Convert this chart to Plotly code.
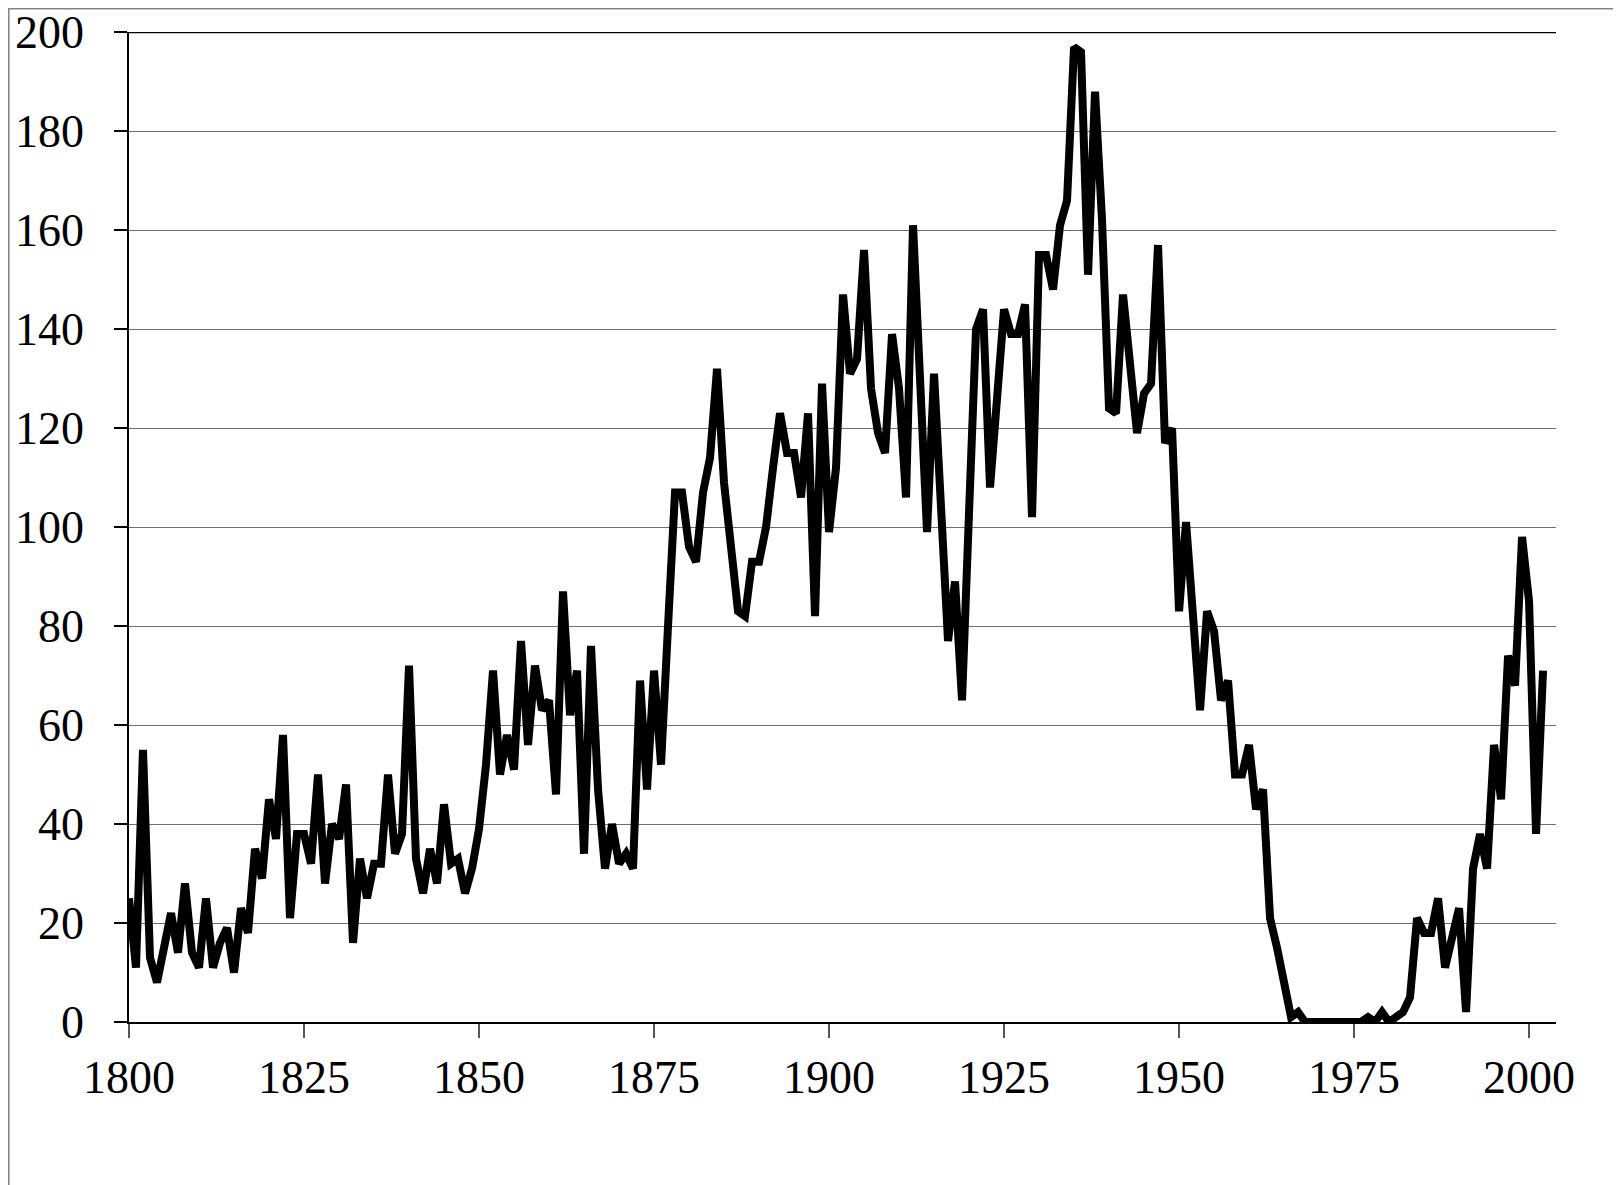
import plotly.graph_objects as go

years = list(range(1800, 2003))

counts = [
    25, 11, 55, 13, 8, 16, 22, 14, 28, 14,          # 1800-1809
    11, 25, 11, 16, 19, 10, 23, 18, 35, 29,         # 1810-1819
    45, 37, 58, 21, 38, 38, 32, 50, 28, 40,         # 1820-1829
    37, 48, 16, 33, 25, 32, 32, 50, 34, 38,         # 1830-1839
    72, 33, 26, 35, 28, 44, 32, 33, 26, 31,         # 1840-1849
    39, 52, 71, 50, 58, 51, 77, 56, 72, 63,         # 1850-1859
    65, 46, 87, 62, 71, 34, 76, 47, 31, 40,         # 1860-1869
    32, 34, 31, 69, 47, 71, 52, 80, 107, 107,       # 1870-1879
    96, 93, 107, 114, 132, 109, 96, 83, 82, 93,     # 1880-1889
    93, 100, 112, 123, 115, 115, 106, 123, 82, 129, # 1890-1899
    99, 112, 147, 131, 134, 156, 128, 119, 115, 139,  # 1900-1909
    128, 106, 161, 132, 99, 131, 106, 77, 89, 65,     # 1910-1919
    103, 140, 144, 108, 126, 144, 139, 139, 145, 102, # 1920-1929
    155, 155, 148, 161, 166, 197, 196, 151, 188, 162, # 1930-1939
    124, 123, 147, 133, 119, 127, 129, 157, 117, 120, # 1940-1949
    83, 101, 82, 63, 83, 79, 65, 69, 50, 50,        # 1950-1959
    56, 43, 47, 21, 15, 7, 1, 2, 0, 0,              # 1960-1969
    0, 0, 0, 0, 0, 0, 0, 1, 0, 2,                   # 1970-1979
    0, 1, 2, 5, 21, 18, 18, 25, 11, 17,             # 1980-1989
    23, 2, 31, 38, 31, 56, 45, 74, 68, 98,          # 1990-1999
    85, 38, 71,                                     # 2000-2002
]

x_ticks = [1800, 1825, 1850, 1875, 1900, 1925, 1950, 1975, 2000]
y_ticks = list(range(0, 201, 20))

fig = go.Figure()
fig.add_trace(go.Scatter(x=years, y=counts, mode="lines",
                         line=dict(color="black", width=8),
                         showlegend=False, hoverinfo="x+y"))

# page body adds an 8px offset, so the figure is 8px smaller than the window
fig.update_layout(
    width=1613, height=1177,
    margin=dict(l=121, r=65, t=24, b=163),
    paper_bgcolor="white", plot_bgcolor="white",
    font=dict(family="Liberation Serif, Times New Roman, serif",
              size=46, color="black"),
    showlegend=False,
)
fig.update_xaxes(
    range=[1800, 2003.85], tickvals=x_ticks, ticktext=[str(t) for t in x_ticks],
    showgrid=False, zeroline=False, automargin=False,
    showline=True, linecolor="black", linewidth=2,
    ticks="outside", ticklen=14, tickcolor="#555555", tickwidth=1.5,
    ticklabelstandoff=0,
)
fig.update_yaxes(
    range=[0, 200.05], tickvals=y_ticks, ticktext=[str(t) for t in y_ticks],
    showgrid=True, gridcolor="#6f6f6f", gridwidth=1.3,
    zeroline=False, automargin=False, ticklabeloverflow="allow",
    showline=True, linecolor="black", linewidth=1.5,
    ticks="outside", ticklen=13, tickcolor="black", tickwidth=1.5,
    ticklabelstandoff=21,
)

# darker top gridline and outer chart frame
fig.add_shape(type="line", xref="paper", yref="y", x0=0, x1=1, y0=200, y1=200,
              line=dict(color="black", width=2))
fig.add_shape(type="rect", xref="paper", yref="paper",
              x0=-0.0844, x1=1.0441, y0=-0.2, y1=1.0237,
              line=dict(color="#868686", width=2), layer="below")

fig.write_html("out.html")
